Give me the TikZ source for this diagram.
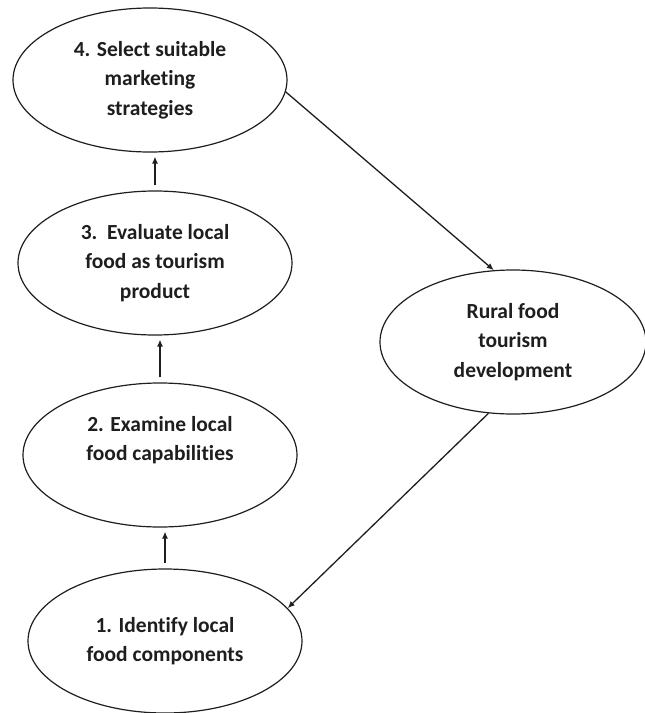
\documentclass[tikz,border=0pt]{standalone}
\usepackage{fontspec}
\setmainfont{Carlito}[Ligatures=NoCommon]
\usepackage{tikz}
\usetikzlibrary{arrows.meta,calc,shapes.geometric}
\definecolor{Ink}{HTML}{1E1E1E}

\begin{document}
\begin{tikzpicture}[x=1pt,y=-1pt,>={Latex[length=7pt,width=6pt]}, font=\fontsize{21.5}{29.5}\selectfont\bfseries]
  \tikzset{stage/.style={draw=Ink,line width=1.2pt,ellipse,minimum width=274pt,minimum height=144pt,inner sep=0pt,align=center,text=Ink},
           flow/.style={->,line width=1.3pt,draw=Ink}}
  \useasboundingbox (0,0) rectangle (645,713);
  \node[stage] (s4) at (150,80) {4. Select suitable\\marketing\\strategies};
  \node[stage] (s3) at (155,263) {3.\ \ Evaluate local\\food as tourism\\product};
  \node[stage] (s2) at (160,455) {2. Examine local\\food capabilities\\[4pt]};
  \node[stage] (s1) at (165,641) {1. Identify local\\food components};
  \node[stage,minimum width=266pt] (rd) at (513,342) {Rural food\\tourism\\development};
  \foreach \lo/\up in {s3/s4,s2/s3,s1/s2}{\draw[flow,shorten <=5pt,shorten >=4pt] (\lo.north) -- (\lo.north |- \up.south);}
  \draw[flow] (s4.-5) -- (rd.105);
  \draw[flow] (rd.251) -- (s1.15);
\end{tikzpicture}
\end{document}
